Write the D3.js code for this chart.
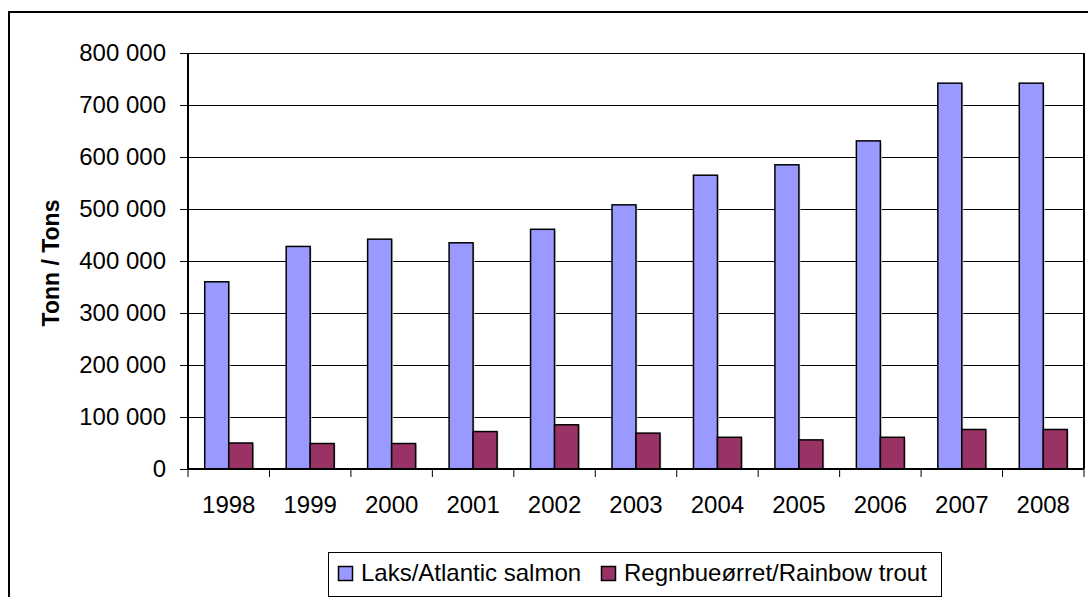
<!DOCTYPE html>
<html>
<head>
<meta charset="utf-8">
<script src="https://cdn.jsdelivr.net/npm/d3@7"></script>
<style>
    body { margin: 0; background: #fff; }
    text { font-family: Arial, "Liberation Sans", sans-serif; fill: #000; }
</style>
</head>
<body>
<div id="chart"></div>
<script>
// data
const years = ["1998", "1999", "2000", "2001", "2002", "2003", "2004", "2005", "2006", "2007", "2008"];
const salmon = [360000, 428000, 442000, 435000, 461000, 508000, 565000, 585000, 631000, 742000, 742000];
const trout = [50000, 49000, 49000, 72000, 85000, 69000, 61000, 56000, 61000, 76000, 76000];
const yTicks = [0, 100000, 200000, 300000, 400000, 500000, 600000, 700000, 800000];
const seriesNames = ["Laks/Atlantic salmon", "Regnbueørret/Rainbow trout"];
const seriesColors = ["#9999ff", "#993366"];

class BarChart {
    constructor(parent) {
        this.parent = parent;
        this.W = 1088;
        this.H = 597;

        // plot area
        this.margin = {top: 53, right: 4, bottom: 128, left: 188};
        this.width = this.W - this.margin.left - this.margin.right;
        this.height = this.H - this.margin.top - this.margin.bottom;

        this.svg = parent.append("svg")
            .attr("width", this.W)
            .attr("height", this.H);

        // outer chart frame (right/bottom fall outside the picture)
        this.svg.append("path")
            .attr("d", "M9,600 V12 H1092")
            .attr("fill", "none")
            .attr("stroke", "#000")
            .attr("stroke-width", 2);

        this.g = this.svg.append("g")
            .attr("transform", "translate(" + this.margin.left + "," + this.margin.top + ")");

        this.x = d3.scaleBand().domain(years).range([0, this.width]);
        this.y = d3.scaleLinear().domain([0, 800000]).range([this.height, 0]);

        this.drawGrid();
        this.drawBars();
        this.drawAxes();
        this.drawLegend();
    }

    drawGrid() {
        let obj = this;
        this.g.append("g").attr("class", "grid")
            .selectAll("line").data(yTicks.slice(1))
            .enter().append("line")
            .attr("x1", 0).attr("x2", this.width)
            .attr("y1", d => Math.round(obj.y(d)) + 0.5)
            .attr("y2", d => Math.round(obj.y(d)) + 0.5)
            .attr("stroke", "#000")
            .attr("stroke-width", 1);

        // right border of the plot area
        this.g.append("line")
            .attr("x1", this.width).attr("x2", this.width)
            .attr("y1", 0).attr("y2", this.height)
            .attr("stroke", "#000")
            .attr("stroke-width", 2);
    }

    drawBars() {
        let obj = this;
        let barW = 24;
        let series = [salmon, trout];

        series.forEach(function(values, si) {
            let bars = obj.g.append("g").attr("class", "series" + si)
                .selectAll("rect").data(values)
                .enter();

            // faint shadow to the right of each bar
            bars.append("rect")
                .attr("x", (d, i) => obj.x(years[i]) + obj.x.bandwidth() / 2 - barW + si * barW + 1.5)
                .attr("y", d => obj.y(d) + 1.5)
                .attr("width", barW)
                .attr("height", d => obj.height - obj.y(d) - 1.5)
                .attr("fill", "#ddd");

            bars.append("rect")
                .attr("x", (d, i) => obj.x(years[i]) + obj.x.bandwidth() / 2 - barW + si * barW)
                .attr("y", d => obj.y(d))
                .attr("width", barW)
                .attr("height", d => obj.height - obj.y(d))
                .attr("fill", seriesColors[si])
                .attr("stroke", "#000")
                .attr("stroke-width", 1.5);
        });
    }

    drawAxes() {
        let obj = this;
        let fmt = d => d3.format(",")(d).replace(/,/g, " ");

        let yAxis = this.g.append("g")
            .call(d3.axisLeft(this.y).tickValues(yTicks).tickFormat(fmt).tickSize(8).tickPadding(14));
        yAxis.select(".domain").attr("stroke-width", 2).attr("d", "M0," + this.height + "V0");
        yAxis.selectAll("text").style("font-size", "24px").attr("font-family", null);
        yAxis.selectAll(".tick line").attr("stroke-width", 1);

        // x axis: ticks between the categories
        let xAxis = this.g.append("g")
            .attr("transform", "translate(0," + this.height + ")");
        xAxis.append("line")
            .attr("x1", 0).attr("x2", this.width)
            .attr("stroke", "#000").attr("stroke-width", 2);
        let edges = years.map(d => obj.x(d)).concat([this.width]);
        xAxis.selectAll(".xtick").data(edges)
            .enter().append("line")
            .attr("class", "xtick")
            .attr("x1", d => d).attr("x2", d => d)
            .attr("y1", 0).attr("y2", 8)
            .attr("stroke", "#000");
        xAxis.selectAll(".xlabel").data(years)
            .enter().append("text")
            .attr("class", "xlabel")
            .attr("x", d => obj.x(d) + obj.x.bandwidth() / 2)
            .attr("y", 44)
            .attr("text-anchor", "middle")
            .style("font-size", "24px")
            .text(d => d);

        // y axis title
        this.svg.append("text")
            .attr("transform", "translate(59,263) rotate(-90)")
            .attr("text-anchor", "middle")
            .style("font-size", "23px")
            .style("font-weight", "bold")
            .text("Tonn / Tons");
    }

    drawLegend() {
        let lg = this.svg.append("g").attr("class", "legend");
        lg.append("rect")
            .attr("x", 328.5).attr("y", 552.5)
            .attr("width", 613).attr("height", 44)
            .attr("fill", "#fff")
            .attr("stroke", "#000")
            .attr("stroke-width", 1);

        let xs = [338, 601];
        seriesNames.forEach(function(name, i) {
            lg.append("rect")
                .attr("x", xs[i] + 0.5).attr("y", 566.5)
                .attr("width", 14).attr("height", 14)
                .attr("fill", seriesColors[i])
                .attr("stroke", "#000")
                .attr("stroke-width", 1.5);
            lg.append("text")
                .attr("x", xs[i] + 23)
                .attr("y", 581)
                .style("font-size", "24px")
                .text(name);
        });
    }
}

let chart = new BarChart(d3.select("#chart"));
</script>
</body>
</html>
